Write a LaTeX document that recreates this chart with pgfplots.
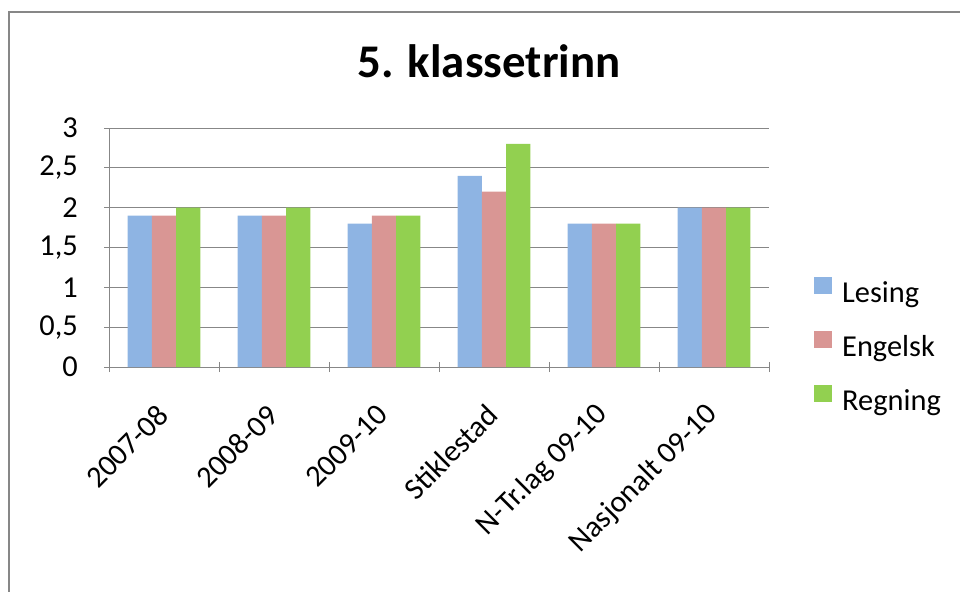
\documentclass[border=0pt]{standalone}
\usepackage{fontspec}
\setmainfont{Carlito}
\usepackage{pgfplots}
\pgfplotsset{compat=1.18}
\definecolor{cLes}{HTML}{8EB4E3}
\definecolor{cEng}{HTML}{D99694}
\definecolor{cReg}{HTML}{92D050}
\definecolor{cGrid}{HTML}{878787}
\begin{document}
\begin{tikzpicture}[x=1bp,y=1bp]
\useasboundingbox (0,0) rectangle (960,-592);
\draw[cGrid, line width=2bp] (9,-593) -- (9,-12) -- (961,-12);
\node[anchor=base, inner sep=0pt, font=\fontsize{47}{56}\selectfont\bfseries] at (489,-78) {5. klassetrinn};
\begin{axis}[
  at={(109bp,-367bp)}, anchor=south west,
  width=660bp, height=239bp, scale only axis,
  xmin=-0.5, xmax=5.5, ymin=0, ymax=3,
  ybar=0pt, bar width=24.3bp,
  xtick={0,1,2,3,4,5},
  xticklabels={2007-08,2008-09,2009-10,Stiklestad,N-Tr.lag 09-10,Nasjonalt 09-10},
  minor xtick={-0.5,0.5,1.5,2.5,3.5,4.5,5.5},
  major x tick style={draw=none},
  ytick={0,0.5,1,1.5,2,2.5,3},
  tick align=outside,
  major tick length=10bp, minor tick length=10bp,
  tick style={cGrid, line width=1bp},
  ymajorgrids, grid style={cGrid, line width=1bp},
  axis lines=left, axis line style={cGrid, line width=1bp, -},
  /pgf/number format/use comma,
  /pgf/number format/assume math mode=true,
  tick label style={font=\fontsize{30.5}{36}\selectfont, inner sep=0pt},
  yticklabel style={anchor=east, xshift=-26bp},
  xticklabel style={yshift=-38bp, xshift=-1bp, rotate=45, anchor=east},
  legend style={draw=none, fill=none, at={(axis description cs:1,0.5)}, anchor=west,
    xshift=45bp, yshift=-97bp, inner sep=0pt, row sep=27bp, column sep=10bp,
    font=\fontsize{30.5}{36}\selectfont, nodes={inner sep=0pt}},
  legend cell align=left,
  legend image code/.code={\path[#1,draw=none] (0bp,-1bp) rectangle (18bp,16bp);},
]
\addplot[fill=cLes, draw=none] coordinates {(0,1.9) (1,1.9) (2,1.8) (3,2.4) (4,1.8) (5,2.0)};
\addplot[fill=cEng, draw=none] coordinates {(0,1.9) (1,1.9) (2,1.9) (3,2.2) (4,1.8) (5,2.0)};
\addplot[fill=cReg, draw=none] coordinates {(0,2.0) (1,2.0) (2,1.9) (3,2.8) (4,1.8) (5,2.0)};
\legend{Lesing,Engelsk,Regning}
\end{axis}
\end{tikzpicture}
\end{document}
